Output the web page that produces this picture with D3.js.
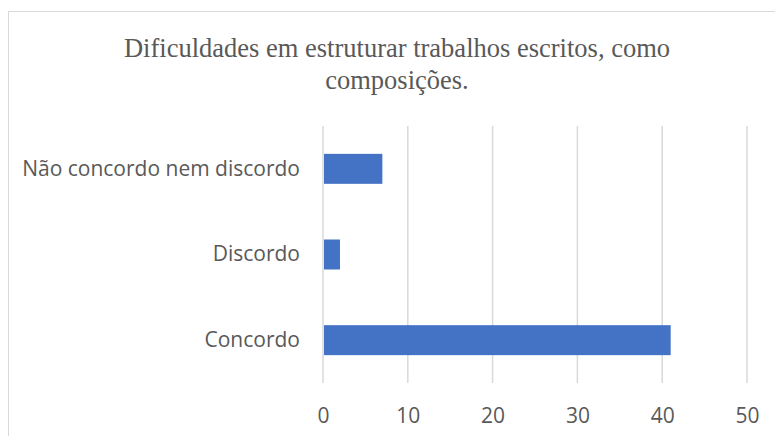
<!DOCTYPE html>
<html>
<head>
<meta charset="utf-8">
<script src="https://cdn.jsdelivr.net/npm/d3@7"></script>
<style>
  body { margin: 0; background: #fff; }
  .axis text { font-family: "Open Sans", sans-serif; fill: #595959; }
  .axis path, .axis line { display: none; }
  .title { font-family: "Liberation Serif", "Times New Roman", serif; fill: #595959; }
</style>
</head>
<body>
<div id="chart"></div>
<script>

var categories = ["Não concordo nem discordo", "Discordo", "Concordo"];
var values = [7, 2, 41];
var ticks = [0, 10, 20, 30, 40, 50];
var titleLines = ["Dificuldades em estruturar trabalhos escritos, como", "composições."];

var margin = {top: 126, right: 28, bottom: 53, left: 323};
var fullWidth = 775, fullHeight = 436;
var width = fullWidth - margin.left - margin.right,
    height = fullHeight - margin.top - margin.bottom;

var root = d3.select("#chart")
    .append("svg")
    .attr("width", fullWidth)
    .attr("height", fullHeight);

// chart border (runs off the right and bottom edges)
root.append("rect")
    .attr("x", 8.5)
    .attr("y", 11.5)
    .attr("width", 800)
    .attr("height", 500)
    .style("fill", "none")
    .style("stroke", "#d9d9d9");

var svg = root.append("g")
    .attr("transform", "translate(" + margin.left + "," + margin.top + ")");

var xScale = d3.scaleLinear()
    .domain([0, 50])
    .range([0, width]);

var yScale = d3.scaleBand()
    .domain(categories)
    .range([0, height])
    .paddingInner(0.65)
    .paddingOuter(0.325);

// gridlines
svg.selectAll("line.grid")
    .data(ticks)
    .enter()
    .append("line")
    .attr("class", "grid")
    .attr("x1", function(d) { return xScale(d); })
    .attr("x2", function(d) { return xScale(d); })
    .attr("y1", 0)
    .attr("y2", height)
    .style("stroke", "#d9d9d9")
    .style("stroke-width", 1.5);

svg.selectAll("rect.bar")
    .data(values)
    .enter()
    .append("rect")
    .attr("class", "bar")
    .attr("x", xScale(0) + 1)
    .attr("y", function(d, i) { return yScale(categories[i]); })
    .attr("width", function(d) { return xScale(d) - xScale(0) - 1; })
    .attr("height", yScale.bandwidth())
    .style("fill", "#4472c4");

var xAxis = d3.axisBottom()
    .scale(xScale)
    .tickValues(ticks)
    .tickSize(0)
    .tickPadding(0);

svg.append("g")
    .attr("class", "axis x-axis")
    .attr("transform", "translate(0," + height + ")")
    .call(xAxis)
    .selectAll("text")
    .attr("y", 40)
    .attr("dy", 0)
    .style("font-size", "21px");

var yAxis = d3.axisLeft()
    .scale(yScale)
    .tickSize(0)
    .tickPadding(23);

svg.append("g")
    .attr("class", "axis y-axis")
    .call(yAxis)
    .selectAll("text")
    .style("font-size", "21px");

root.selectAll("text.title")
    .data(titleLines)
    .enter()
    .append("text")
    .attr("class", "title")
    .attr("x", 397)
    .attr("y", function(d, i) { return 57 + i * 32; })
    .attr("text-anchor", "middle")
    .style("font-size", "26.5px")
    .text(function(d) { return d; });

</script>
</body>
</html>
